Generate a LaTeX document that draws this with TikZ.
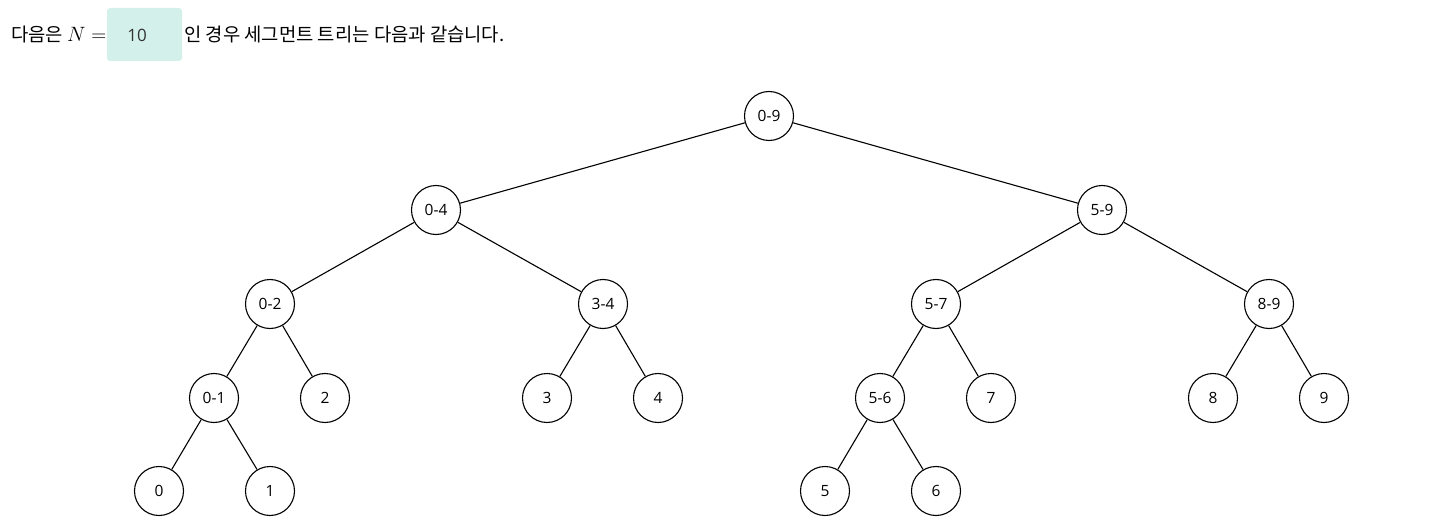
\documentclass[tikz,border=0pt]{standalone}
\usepackage{fontspec}
\setmainfont{Open Sans}
\newfontfamily\kr{Noto Sans CJK KR}
\definecolor{boxmint}{HTML}{D3F1EA}
\definecolor{numgray}{HTML}{333333}
\begin{document}
\begin{tikzpicture}[x=1pt,y=-1pt,
  tn/.style={circle,draw=black,line width=1.1pt,minimum size=49pt,inner sep=0pt,font=\fontsize{15.5}{18}\selectfont},
  edge/.style={line width=1.1pt}]
\useasboundingbox (0,0) rectangle (1449,524);
% header
\node[anchor=base west,inner sep=0pt,font=\kr\fontsize{18.8}{22}\selectfont] (t1) at (11,42) {다음은};
\node[anchor=base west,inner sep=0pt,font=\fontsize{20}{22}\selectfont] (tn) at (67,42) {$N=$};
\fill[boxmint,rounded corners=3pt] (107,8) rectangle (182,61);
\node[anchor=base,inner sep=0pt,text=numgray,font=\fontsize{17}{20}\selectfont] (ten) at (137,42) {10};
\node[anchor=base west,inner sep=0pt,font=\kr\fontsize{18.8}{22}\selectfont] (t2) at (184,42) {인 경우 세그먼트 트리는 다음과 같습니다.};
% nodes
\node[tn] (n09) at (769,116) {0-9};
\node[tn] (n04) at (436,210) {0-4};
\node[tn] (n59) at (1102,210) {5-9};
\node[tn] (n02) at (270,304) {0-2};
\node[tn] (n34) at (603,304) {3-4};
\node[tn] (n57) at (936,304) {5-7};
\node[tn] (n89) at (1269,304) {8-9};
\node[tn] (n01) at (214,398) {0-1};
\node[tn] (n2) at (325,398) {2};
\node[tn] (n3) at (547,398) {3};
\node[tn] (n4) at (658,398) {4};
\node[tn] (n56) at (880,398) {5-6};
\node[tn] (n7) at (991,398) {7};
\node[tn] (n8) at (1213,398) {8};
\node[tn] (n9) at (1324,398) {9};
\node[tn] (n0) at (159,491) {0};
\node[tn] (n1) at (270,491) {1};
\node[tn] (n5) at (825,491) {5};
\node[tn] (n6) at (936,491) {6};
% edges
\foreach \a/\b in {n09/n04,n09/n59,n04/n02,n04/n34,n59/n57,n59/n89,n02/n01,n02/n2,n34/n3,n34/n4,n57/n56,n57/n7,n89/n8,n89/n9,n01/n0,n01/n1,n56/n5,n56/n6}
  \draw[edge] (\a) -- (\b);
\end{tikzpicture}
\end{document}
